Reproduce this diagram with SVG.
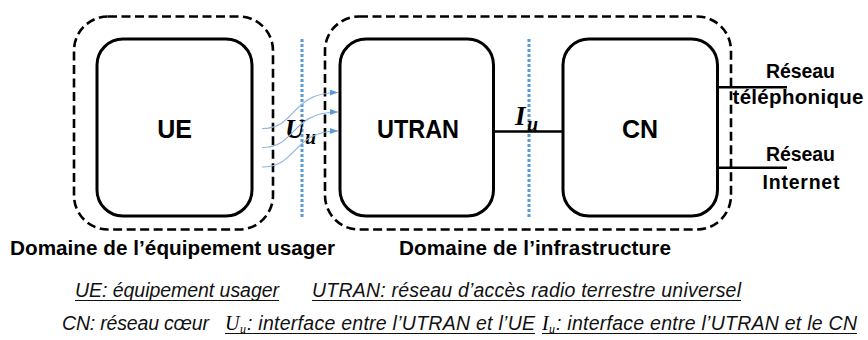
<svg xmlns="http://www.w3.org/2000/svg" width="868" height="340" viewBox="0 0 868 340">
<defs>
<style>
.dom{fill:none;stroke:#000;stroke-width:2.6;stroke-dasharray:9 4.5}
.box{fill:#fff;stroke:#000;stroke-width:3}
.dot{stroke:#5b9bd5;stroke-width:3;stroke-dasharray:3 2}
.lbl{font-family:"Liberation Sans",Arial,sans-serif;font-weight:bold;fill:#000}
.note{font-family:"Liberation Sans",Arial,sans-serif;font-style:italic;font-size:19.5px;fill:#111}
.math{font-family:"Liberation Serif","Times New Roman",serif;font-style:italic;fill:#000}
.ul{stroke:#111;stroke-width:1.2}
.wave{fill:none;stroke:#8fb6df;stroke-width:1.2}
.link{stroke:#000;stroke-width:2.5}
</style>
<marker id="ah" viewBox="0 0 8 6" refX="8" refY="3" markerWidth="8" markerHeight="6" markerUnits="userSpaceOnUse" orient="auto">
<path d="M0,0 L8,3 L0,6 Z" fill="#5b9bd5"/>
</marker>
</defs>
<g id="domaine-usager">
<rect class="dom" x="74" y="16.5" width="199" height="213" rx="34"/>
<text class="lbl" x="172.5" y="255" font-size="20.7" text-anchor="middle" textLength="325">Domaine de l’équipement usager</text>
</g>
<g id="domaine-infra">
<rect class="dom" x="325" y="16.5" width="406" height="213" rx="34"/>
<text class="lbl" x="535" y="255" font-size="20.7" text-anchor="middle" textLength="272">Domaine de l’infrastructure</text>
</g>
<g id="ue">
<rect class="box" x="97" y="39" width="155" height="177" rx="26"/>
<text class="lbl" x="174.5" y="138" font-size="25" text-anchor="middle">UE</text>
</g>
<g id="utran">
<rect class="box" x="340" y="39" width="153.5" height="177" rx="26"/>
<text class="lbl" x="418" y="138" font-size="25" text-anchor="middle" textLength="82" lengthAdjust="spacingAndGlyphs">UTRAN</text>
</g>
<g id="cn">
<rect class="box" x="563" y="39" width="154.5" height="177" rx="26"/>
<text class="lbl" x="640" y="138" font-size="25" text-anchor="middle">CN</text>
</g>
<g id="reseau-telephonique">
<text class="lbl" x="800.5" y="78" font-size="19.5" text-anchor="middle" textLength="69">Réseau</text>
<text class="lbl" x="798" y="104" font-size="20.5" text-anchor="middle" textLength="131">téléphonique</text>
</g>
<g id="reseau-internet">
<text class="lbl" x="800.5" y="161" font-size="19.5" text-anchor="middle" textLength="69">Réseau</text>
<text class="lbl" x="801" y="189" font-size="19.5" text-anchor="middle" textLength="77">Internet</text>
</g>
<g id="interface-uu">
<line class="dot" x1="302" y1="39" x2="302" y2="218"/>
<text class="math" x="285" y="138" font-size="27" font-weight="bold">U</text>
<text class="math" x="305" y="144" font-size="20" font-weight="bold">u</text>
</g>
<g id="interface-iu">
<line class="dot" x1="529" y1="39" x2="529" y2="217"/>
<text class="math" x="515" y="125" font-size="27" font-weight="bold">I</text>
<text class="math" x="527" y="130.5" font-size="20" font-weight="bold">u</text>
</g>
<g id="connectors">
<path class="wave" d="M262,128.5 C297,128.5 290,92.5 338,92.5" marker-end="url(#ah)"/>
<path class="wave" d="M262,147.5 C297,147.5 290,112 338,112" marker-end="url(#ah)"/>
<path class="wave" d="M262,167 C298,167 292,131 338,131" marker-end="url(#ah)"/>
<line class="link" x1="493.5" y1="131.5" x2="563" y2="131.5"/>
<line class="link" x1="717.5" y1="87.3" x2="787" y2="87.3"/>
<line class="link" x1="717.5" y1="167.7" x2="787" y2="167.7"/>
</g>
<g id="legende">
<text class="note" x="75" y="297" textLength="204">UE: équipement usager</text>
<line class="ul" x1="75" y1="300.5" x2="279" y2="300.5"/>
<text class="note" x="312" y="297" textLength="429">UTRAN: réseau d’accès radio terrestre universel</text>
<line class="ul" x1="312" y1="300.5" x2="741" y2="300.5"/>
<text class="note" x="62" y="330" textLength="147">CN: réseau cœur</text>
<text class="math" x="225" y="330" font-size="20">U</text>
<text class="math" x="240" y="333" font-size="12">u</text>
<text class="note" x="247" y="330" textLength="288">: interface entre l’UTRAN et l’UE</text>
<line class="ul" x1="225" y1="333.5" x2="535" y2="333.5"/>
<text class="math" x="542" y="330" font-size="20">I</text>
<text class="math" x="549" y="333" font-size="12">u</text>
<text class="note" x="556" y="330" textLength="301">: interface entre l’UTRAN et le CN</text>
<line class="ul" x1="542" y1="333.5" x2="857" y2="333.5"/>
</g>
</svg>
